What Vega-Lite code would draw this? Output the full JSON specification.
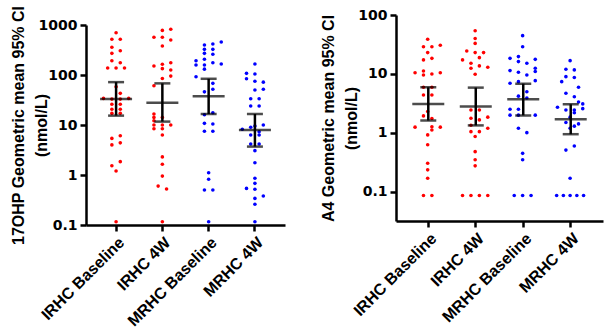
{
"$schema": "https://vega.github.io/schema/vega-lite/v6.json",
"padding": {"left": 9, "top": 5, "right": 2, "bottom": 0},
"config": {
  "font": "Liberation Sans",
  "view": {"stroke": null},
  "axis": {"domainColor": "black", "domainWidth": 2.5, "tickColor": "black", "tickWidth": 2.5, "tickSize": 6, "grid": false,
           "labelFont": "Liberation Sans", "labelFontWeight": "bold", "labelFontSize": 16, "labelColor": "black", "labelPadding": 3,
           "titleFont": "Liberation Sans", "titleFontWeight": "bold", "titleFontSize": 16, "titleColor": "black"},
  "axisY": {"labelFont": "DejaVu Sans", "labelFontSize": 14, "titleX": -60, "titleLineHeight": 23}
},
"datasets": {
"pts": [
{"measure":"17OHP","group":"IRHC Baseline","value":701,"slot":0},
{"measure":"17OHP","group":"IRHC Baseline","value":518,"slot":-1},
{"measure":"17OHP","group":"IRHC Baseline","value":518,"slot":1},
{"measure":"17OHP","group":"IRHC Baseline","value":358,"slot":-1},
{"measure":"17OHP","group":"IRHC Baseline","value":306,"slot":1},
{"measure":"17OHP","group":"IRHC Baseline","value":271,"slot":-1},
{"measure":"17OHP","group":"IRHC Baseline","value":193,"slot":-1},
{"measure":"17OHP","group":"IRHC Baseline","value":176,"slot":1},
{"measure":"17OHP","group":"IRHC Baseline","value":138,"slot":-2},
{"measure":"17OHP","group":"IRHC Baseline","value":138,"slot":0},
{"measure":"17OHP","group":"IRHC Baseline","value":138,"slot":2},
{"measure":"17OHP","group":"IRHC Baseline","value":58,"slot":0},
{"measure":"17OHP","group":"IRHC Baseline","value":43,"slot":1},
{"measure":"17OHP","group":"IRHC Baseline","value":34,"slot":-3},
{"measure":"17OHP","group":"IRHC Baseline","value":33,"slot":-1},
{"measure":"17OHP","group":"IRHC Baseline","value":33,"slot":1},
{"measure":"17OHP","group":"IRHC Baseline","value":34,"slot":3},
{"measure":"17OHP","group":"IRHC Baseline","value":26,"slot":-1},
{"measure":"17OHP","group":"IRHC Baseline","value":26,"slot":1},
{"measure":"17OHP","group":"IRHC Baseline","value":20.6,"slot":-1},
{"measure":"17OHP","group":"IRHC Baseline","value":20.6,"slot":1},
{"measure":"17OHP","group":"IRHC Baseline","value":17.1,"slot":-1},
{"measure":"17OHP","group":"IRHC Baseline","value":17.1,"slot":1},
{"measure":"17OHP","group":"IRHC Baseline","value":5.4,"slot":-1},
{"measure":"17OHP","group":"IRHC Baseline","value":6.1,"slot":1},
{"measure":"17OHP","group":"IRHC Baseline","value":4.0,"slot":-1},
{"measure":"17OHP","group":"IRHC Baseline","value":4.4,"slot":1},
{"measure":"17OHP","group":"IRHC Baseline","value":1.53,"slot":-1},
{"measure":"17OHP","group":"IRHC Baseline","value":1.85,"slot":1},
{"measure":"17OHP","group":"IRHC Baseline","value":1.2,"slot":0},
{"measure":"17OHP","group":"IRHC Baseline","value":0.116,"slot":0},
{"measure":"17OHP","group":"IRHC 4W","value":780,"slot":0},
{"measure":"17OHP","group":"IRHC 4W","value":820,"slot":2},
{"measure":"17OHP","group":"IRHC 4W","value":568,"slot":-2},
{"measure":"17OHP","group":"IRHC 4W","value":568,"slot":0},
{"measure":"17OHP","group":"IRHC 4W","value":500,"slot":2},
{"measure":"17OHP","group":"IRHC 4W","value":380,"slot":0},
{"measure":"17OHP","group":"IRHC 4W","value":151,"slot":-2},
{"measure":"17OHP","group":"IRHC 4W","value":164,"slot":0},
{"measure":"17OHP","group":"IRHC 4W","value":176,"slot":2},
{"measure":"17OHP","group":"IRHC 4W","value":134,"slot":0},
{"measure":"17OHP","group":"IRHC 4W","value":126,"slot":2},
{"measure":"17OHP","group":"IRHC 4W","value":95,"slot":2},
{"measure":"17OHP","group":"IRHC 4W","value":85,"slot":0},
{"measure":"17OHP","group":"IRHC 4W","value":61,"slot":-2},
{"measure":"17OHP","group":"IRHC 4W","value":16.6,"slot":-2},
{"measure":"17OHP","group":"IRHC 4W","value":14.2,"slot":-2},
{"measure":"17OHP","group":"IRHC 4W","value":14.2,"slot":0},
{"measure":"17OHP","group":"IRHC 4W","value":12.2,"slot":-2},
{"measure":"17OHP","group":"IRHC 4W","value":10,"slot":-2},
{"measure":"17OHP","group":"IRHC 4W","value":10,"slot":0},
{"measure":"17OHP","group":"IRHC 4W","value":10,"slot":2},
{"measure":"17OHP","group":"IRHC 4W","value":8.4,"slot":-2},
{"measure":"17OHP","group":"IRHC 4W","value":8.4,"slot":0},
{"measure":"17OHP","group":"IRHC 4W","value":6.3,"slot":0},
{"measure":"17OHP","group":"IRHC 4W","value":2.3,"slot":0},
{"measure":"17OHP","group":"IRHC 4W","value":1.64,"slot":0},
{"measure":"17OHP","group":"IRHC 4W","value":0.95,"slot":0},
{"measure":"17OHP","group":"IRHC 4W","value":0.6,"slot":-1},
{"measure":"17OHP","group":"IRHC 4W","value":0.525,"slot":1},
{"measure":"17OHP","group":"IRHC 4W","value":0.116,"slot":0},
{"measure":"17OHP","group":"MRHC Baseline","value":457,"slot":3},
{"measure":"17OHP","group":"MRHC Baseline","value":417,"slot":1},
{"measure":"17OHP","group":"MRHC Baseline","value":398,"slot":-1},
{"measure":"17OHP","group":"MRHC Baseline","value":326,"slot":-1},
{"measure":"17OHP","group":"MRHC Baseline","value":326,"slot":1},
{"measure":"17OHP","group":"MRHC Baseline","value":271,"slot":-1},
{"measure":"17OHP","group":"MRHC Baseline","value":260,"slot":1},
{"measure":"17OHP","group":"MRHC Baseline","value":193,"slot":-3},
{"measure":"17OHP","group":"MRHC Baseline","value":206,"slot":-1},
{"measure":"17OHP","group":"MRHC Baseline","value":176,"slot":1},
{"measure":"17OHP","group":"MRHC Baseline","value":166,"slot":3},
{"measure":"17OHP","group":"MRHC Baseline","value":158,"slot":-3},
{"measure":"17OHP","group":"MRHC Baseline","value":158,"slot":-1},
{"measure":"17OHP","group":"MRHC Baseline","value":131,"slot":-1},
{"measure":"17OHP","group":"MRHC Baseline","value":92.5,"slot":-3},
{"measure":"17OHP","group":"MRHC Baseline","value":68,"slot":1},
{"measure":"17OHP","group":"MRHC Baseline","value":52,"slot":1},
{"measure":"17OHP","group":"MRHC Baseline","value":46,"slot":-1},
{"measure":"17OHP","group":"MRHC Baseline","value":17.6,"slot":1},
{"measure":"17OHP","group":"MRHC Baseline","value":16,"slot":-1},
{"measure":"17OHP","group":"MRHC Baseline","value":10.8,"slot":-1},
{"measure":"17OHP","group":"MRHC Baseline","value":10.5,"slot":1},
{"measure":"17OHP","group":"MRHC Baseline","value":7.5,"slot":-1},
{"measure":"17OHP","group":"MRHC Baseline","value":7.5,"slot":1},
{"measure":"17OHP","group":"MRHC Baseline","value":1.11,"slot":0},
{"measure":"17OHP","group":"MRHC Baseline","value":0.82,"slot":0},
{"measure":"17OHP","group":"MRHC Baseline","value":0.5,"slot":-1},
{"measure":"17OHP","group":"MRHC Baseline","value":0.5,"slot":1},
{"measure":"17OHP","group":"MRHC Baseline","value":0.116,"slot":0},
{"measure":"17OHP","group":"MRHC 4W","value":166,"slot":0},
{"measure":"17OHP","group":"MRHC 4W","value":108,"slot":-2},
{"measure":"17OHP","group":"MRHC 4W","value":105,"slot":0},
{"measure":"17OHP","group":"MRHC 4W","value":84,"slot":-2},
{"measure":"17OHP","group":"MRHC 4W","value":75,"slot":0},
{"measure":"17OHP","group":"MRHC 4W","value":72,"slot":2},
{"measure":"17OHP","group":"MRHC 4W","value":50,"slot":0},
{"measure":"17OHP","group":"MRHC 4W","value":52,"slot":2},
{"measure":"17OHP","group":"MRHC 4W","value":33.6,"slot":-1},
{"measure":"17OHP","group":"MRHC 4W","value":33.6,"slot":1},
{"measure":"17OHP","group":"MRHC 4W","value":24,"slot":-1},
{"measure":"17OHP","group":"MRHC 4W","value":24,"slot":1},
{"measure":"17OHP","group":"MRHC 4W","value":10,"slot":2},
{"measure":"17OHP","group":"MRHC 4W","value":9.5,"slot":0},
{"measure":"17OHP","group":"MRHC 4W","value":9.0,"slot":-1},
{"measure":"17OHP","group":"MRHC 4W","value":8.2,"slot":-3},
{"measure":"17OHP","group":"MRHC 4W","value":7.35,"slot":1},
{"measure":"17OHP","group":"MRHC 4W","value":6.3,"slot":-1},
{"measure":"17OHP","group":"MRHC 4W","value":6.3,"slot":1},
{"measure":"17OHP","group":"MRHC 4W","value":4.17,"slot":-1},
{"measure":"17OHP","group":"MRHC 4W","value":4.17,"slot":1},
{"measure":"17OHP","group":"MRHC 4W","value":3.07,"slot":0},
{"measure":"17OHP","group":"MRHC 4W","value":1.76,"slot":0},
{"measure":"17OHP","group":"MRHC 4W","value":0.86,"slot":0},
{"measure":"17OHP","group":"MRHC 4W","value":0.68,"slot":0},
{"measure":"17OHP","group":"MRHC 4W","value":0.54,"slot":-2},
{"measure":"17OHP","group":"MRHC 4W","value":0.52,"slot":0},
{"measure":"17OHP","group":"MRHC 4W","value":0.38,"slot":2},
{"measure":"17OHP","group":"MRHC 4W","value":0.34,"slot":0},
{"measure":"17OHP","group":"MRHC 4W","value":0.26,"slot":0},
{"measure":"17OHP","group":"MRHC 4W","value":0.116,"slot":0},
{"measure":"A4","group":"IRHC Baseline","value":38.7,"slot":0},
{"measure":"A4","group":"IRHC Baseline","value":29,"slot":-1},
{"measure":"A4","group":"IRHC Baseline","value":29,"slot":1},
{"measure":"A4","group":"IRHC Baseline","value":30.6,"slot":3},
{"measure":"A4","group":"IRHC Baseline","value":23,"slot":0},
{"measure":"A4","group":"IRHC Baseline","value":17.3,"slot":-1},
{"measure":"A4","group":"IRHC Baseline","value":18.4,"slot":1},
{"measure":"A4","group":"IRHC Baseline","value":10.5,"slot":-3},
{"measure":"A4","group":"IRHC Baseline","value":11.2,"slot":-1},
{"measure":"A4","group":"IRHC Baseline","value":9.6,"slot":-1},
{"measure":"A4","group":"IRHC Baseline","value":10,"slot":1},
{"measure":"A4","group":"IRHC Baseline","value":10.5,"slot":3},
{"measure":"A4","group":"IRHC Baseline","value":5.95,"slot":-1},
{"measure":"A4","group":"IRHC Baseline","value":5.95,"slot":1},
{"measure":"A4","group":"IRHC Baseline","value":4.4,"slot":-1},
{"measure":"A4","group":"IRHC Baseline","value":4.4,"slot":1},
{"measure":"A4","group":"IRHC Baseline","value":2.3,"slot":0},
{"measure":"A4","group":"IRHC Baseline","value":1.94,"slot":-1},
{"measure":"A4","group":"IRHC Baseline","value":1.75,"slot":1},
{"measure":"A4","group":"IRHC Baseline","value":1.25,"slot":-3},
{"measure":"A4","group":"IRHC Baseline","value":1.27,"slot":1},
{"measure":"A4","group":"IRHC Baseline","value":1.25,"slot":3},
{"measure":"A4","group":"IRHC Baseline","value":1.12,"slot":1},
{"measure":"A4","group":"IRHC Baseline","value":0.925,"slot":0},
{"measure":"A4","group":"IRHC Baseline","value":0.63,"slot":0},
{"measure":"A4","group":"IRHC Baseline","value":0.306,"slot":0},
{"measure":"A4","group":"IRHC Baseline","value":0.236,"slot":0},
{"measure":"A4","group":"IRHC Baseline","value":0.17,"slot":0},
{"measure":"A4","group":"IRHC Baseline","value":0.0867,"slot":-1},
{"measure":"A4","group":"IRHC Baseline","value":0.0867,"slot":1},
{"measure":"A4","group":"IRHC 4W","value":54,"slot":0},
{"measure":"A4","group":"IRHC 4W","value":40,"slot":0},
{"measure":"A4","group":"IRHC 4W","value":33,"slot":0},
{"measure":"A4","group":"IRHC 4W","value":24.5,"slot":-2},
{"measure":"A4","group":"IRHC 4W","value":23,"slot":0},
{"measure":"A4","group":"IRHC 4W","value":23,"slot":2},
{"measure":"A4","group":"IRHC 4W","value":17.3,"slot":-3},
{"measure":"A4","group":"IRHC 4W","value":18.9,"slot":1},
{"measure":"A4","group":"IRHC 4W","value":15.2,"slot":-1},
{"measure":"A4","group":"IRHC 4W","value":13.7,"slot":1},
{"measure":"A4","group":"IRHC 4W","value":12.5,"slot":-1},
{"measure":"A4","group":"IRHC 4W","value":13,"slot":3},
{"measure":"A4","group":"IRHC 4W","value":9.9,"slot":0},
{"measure":"A4","group":"IRHC 4W","value":2.45,"slot":-1},
{"measure":"A4","group":"IRHC 4W","value":2.45,"slot":1},
{"measure":"A4","group":"IRHC 4W","value":1.77,"slot":-1},
{"measure":"A4","group":"IRHC 4W","value":1.66,"slot":1},
{"measure":"A4","group":"IRHC 4W","value":1.85,"slot":3},
{"measure":"A4","group":"IRHC 4W","value":1.35,"slot":-1},
{"measure":"A4","group":"IRHC 4W","value":1.05,"slot":-1},
{"measure":"A4","group":"IRHC 4W","value":1.05,"slot":1},
{"measure":"A4","group":"IRHC 4W","value":1.2,"slot":3},
{"measure":"A4","group":"IRHC 4W","value":0.866,"slot":0},
{"measure":"A4","group":"IRHC 4W","value":0.48,"slot":0},
{"measure":"A4","group":"IRHC 4W","value":0.35,"slot":0},
{"measure":"A4","group":"IRHC 4W","value":0.276,"slot":0},
{"measure":"A4","group":"IRHC 4W","value":0.0867,"slot":-3},
{"measure":"A4","group":"IRHC 4W","value":0.0867,"slot":-1},
{"measure":"A4","group":"IRHC 4W","value":0.0867,"slot":1},
{"measure":"A4","group":"IRHC 4W","value":0.0867,"slot":3},
{"measure":"A4","group":"MRHC Baseline","value":44.6,"slot":0},
{"measure":"A4","group":"MRHC Baseline","value":29,"slot":0},
{"measure":"A4","group":"MRHC Baseline","value":18.4,"slot":-3},
{"measure":"A4","group":"MRHC Baseline","value":19.7,"slot":-1},
{"measure":"A4","group":"MRHC Baseline","value":17.7,"slot":3},
{"measure":"A4","group":"MRHC Baseline","value":16.2,"slot":-1},
{"measure":"A4","group":"MRHC Baseline","value":15.2,"slot":1},
{"measure":"A4","group":"MRHC Baseline","value":11.4,"slot":-3},
{"measure":"A4","group":"MRHC Baseline","value":10.7,"slot":-1},
{"measure":"A4","group":"MRHC Baseline","value":9.6,"slot":1},
{"measure":"A4","group":"MRHC Baseline","value":12.5,"slot":3},
{"measure":"A4","group":"MRHC Baseline","value":11,"slot":3},
{"measure":"A4","group":"MRHC Baseline","value":7.7,"slot":3},
{"measure":"A4","group":"MRHC Baseline","value":6.95,"slot":-3},
{"measure":"A4","group":"MRHC Baseline","value":7.4,"slot":-1},
{"measure":"A4","group":"MRHC Baseline","value":5.0,"slot":1},
{"measure":"A4","group":"MRHC Baseline","value":4.2,"slot":-1},
{"measure":"A4","group":"MRHC Baseline","value":3.9,"slot":1},
{"measure":"A4","group":"MRHC Baseline","value":2.52,"slot":-3},
{"measure":"A4","group":"MRHC Baseline","value":2.52,"slot":-1},
{"measure":"A4","group":"MRHC Baseline","value":2.0,"slot":-3},
{"measure":"A4","group":"MRHC Baseline","value":2.0,"slot":-1},
{"measure":"A4","group":"MRHC Baseline","value":2.0,"slot":3},
{"measure":"A4","group":"MRHC Baseline","value":1.2,"slot":-1},
{"measure":"A4","group":"MRHC Baseline","value":1.01,"slot":1},
{"measure":"A4","group":"MRHC Baseline","value":0.45,"slot":0},
{"measure":"A4","group":"MRHC Baseline","value":0.35,"slot":0},
{"measure":"A4","group":"MRHC Baseline","value":0.0867,"slot":-2},
{"measure":"A4","group":"MRHC Baseline","value":0.0867,"slot":0},
{"measure":"A4","group":"MRHC Baseline","value":0.0867,"slot":2},
{"measure":"A4","group":"MRHC 4W","value":16.8,"slot":0},
{"measure":"A4","group":"MRHC 4W","value":12,"slot":-1},
{"measure":"A4","group":"MRHC 4W","value":11.7,"slot":1},
{"measure":"A4","group":"MRHC 4W","value":9.0,"slot":-1},
{"measure":"A4","group":"MRHC 4W","value":8.7,"slot":1},
{"measure":"A4","group":"MRHC 4W","value":7.4,"slot":-2},
{"measure":"A4","group":"MRHC 4W","value":5.95,"slot":2},
{"measure":"A4","group":"MRHC 4W","value":4.7,"slot":-1},
{"measure":"A4","group":"MRHC 4W","value":4.1,"slot":1},
{"measure":"A4","group":"MRHC 4W","value":3.35,"slot":2},
{"measure":"A4","group":"MRHC 4W","value":3.1,"slot":3},
{"measure":"A4","group":"MRHC 4W","value":2.72,"slot":-3},
{"measure":"A4","group":"MRHC 4W","value":2.58,"slot":3},
{"measure":"A4","group":"MRHC 4W","value":2.45,"slot":-1},
{"measure":"A4","group":"MRHC 4W","value":2.45,"slot":1},
{"measure":"A4","group":"MRHC 4W","value":2.2,"slot":1},
{"measure":"A4","group":"MRHC 4W","value":1.85,"slot":0},
{"measure":"A4","group":"MRHC 4W","value":1.5,"slot":-1},
{"measure":"A4","group":"MRHC 4W","value":1.42,"slot":2},
{"measure":"A4","group":"MRHC 4W","value":1.3,"slot":1},
{"measure":"A4","group":"MRHC 4W","value":1.2,"slot":0},
{"measure":"A4","group":"MRHC 4W","value":0.6,"slot":1},
{"measure":"A4","group":"MRHC 4W","value":0.51,"slot":-1},
{"measure":"A4","group":"MRHC 4W","value":0.17,"slot":0},
{"measure":"A4","group":"MRHC 4W","value":0.0867,"slot":-3.2},
{"measure":"A4","group":"MRHC 4W","value":0.0867,"slot":-1.6},
{"measure":"A4","group":"MRHC 4W","value":0.0867,"slot":0},
{"measure":"A4","group":"MRHC 4W","value":0.0867,"slot":1.6},
{"measure":"A4","group":"MRHC 4W","value":0.0867,"slot":3.2}
],
"stats": [
{"measure":"17OHP","group":"IRHC Baseline","mean":33,"lo":15.4,"hi":72},
{"measure":"17OHP","group":"IRHC 4W","mean":27.9,"lo":11.7,"hi":68},
{"measure":"17OHP","group":"MRHC Baseline","mean":37.5,"lo":16.6,"hi":84},
{"measure":"17OHP","group":"MRHC 4W","mean":7.9,"lo":3.7,"hi":16.6},
{"measure":"A4","group":"IRHC Baseline","mean":3.08,"lo":1.62,"hi":5.95},
{"measure":"A4","group":"IRHC 4W","mean":2.79,"lo":1.34,"hi":5.86},
{"measure":"A4","group":"MRHC Baseline","mean":3.72,"lo":1.98,"hi":6.85},
{"measure":"A4","group":"MRHC 4W","mean":1.7,"lo":0.95,"hi":3.06}
]
},
"spacing": 34,
"hconcat": [
{
 "vconcat": [
  {"width": 199, "height": 10, "data": {"values": []}, "mark": "point"},
  {
   "width": 199, "height": 200,
   "layer": [
    {"data": {"name": "pts"}, "transform": [{"filter": "datum.measure == '17OHP'"}],
     "mark": {"type": "circle", "size": 13, "opacity": 1},
     "encoding": {
      "x": {"field": "group", "type": "nominal", "sort": ["IRHC Baseline","IRHC 4W","MRHC Baseline","MRHC 4W"], "scale": {"type": "band", "paddingInner": 0, "paddingOuter": 0.15}, "axis": {"labelAngle": -45, "title": null}},
      "xOffset": {"field": "slot", "type": "quantitative", "scale": {"domain": [-5.5, 5.5]}},
      "y": {"field": "value", "type": "quantitative", "scale": {"type": "log", "domain": [0.1, 1000], "nice": false}, "axis": {"values": [0.1, 1, 10, 100, 1000], "format": "~g"}, "title": ["17OHP Geometric mean 95% CI", "(nmol/L)"]},
      "color": {"field": "group", "type": "nominal", "scale": {"domain": ["IRHC Baseline","IRHC 4W","MRHC Baseline","MRHC 4W"], "range": ["#ff0000","#ff0000","#0000ff","#0000ff"]}, "legend": null}
     }},
    {"data": {"name": "stats"}, "transform": [{"filter": "datum.measure == '17OHP'"}],
     "mark": {"type": "rule", "color": "black", "strokeWidth": 2.5},
     "encoding": {"x": {"field": "group", "type": "nominal", "sort": ["IRHC Baseline","IRHC 4W","MRHC Baseline","MRHC 4W"], "title": null},
      "y": {"field": "lo", "type": "quantitative", "title": ["17OHP Geometric mean 95% CI", "(nmol/L)"]}, "y2": {"field": "hi"}}},
    {"data": {"name": "stats"}, "transform": [{"filter": "datum.measure == '17OHP'"}],
     "mark": {"type": "tick", "color": "black", "size": 16, "thickness": 2.5},
     "encoding": {"x": {"field": "group", "type": "nominal", "sort": ["IRHC Baseline","IRHC 4W","MRHC Baseline","MRHC 4W"], "title": null},
      "y": {"field": "lo", "type": "quantitative", "title": ["17OHP Geometric mean 95% CI", "(nmol/L)"]}}},
    {"data": {"name": "stats"}, "transform": [{"filter": "datum.measure == '17OHP'"}],
     "mark": {"type": "tick", "color": "black", "size": 16, "thickness": 2.5},
     "encoding": {"x": {"field": "group", "type": "nominal", "sort": ["IRHC Baseline","IRHC 4W","MRHC Baseline","MRHC 4W"], "title": null},
      "y": {"field": "hi", "type": "quantitative", "title": ["17OHP Geometric mean 95% CI", "(nmol/L)"]}}},
    {"data": {"name": "stats"}, "transform": [{"filter": "datum.measure == '17OHP'"}],
     "mark": {"type": "tick", "color": "black", "size": 32, "thickness": 2.5},
     "encoding": {"x": {"field": "group", "type": "nominal", "sort": ["IRHC Baseline","IRHC 4W","MRHC Baseline","MRHC 4W"], "title": null},
      "y": {"field": "mean", "type": "quantitative", "title": ["17OHP Geometric mean 95% CI", "(nmol/L)"]}}}
   ]
  }
 ],
 "spacing": 0,
 "bounds": "flush"
},
{
 "width": 207, "height": 206,
 "layer": [
  {"data": {"name": "pts"}, "transform": [{"filter": "datum.measure == 'A4'"}],
   "mark": {"type": "circle", "size": 13, "opacity": 1},
   "encoding": {
    "x": {"field": "group", "type": "nominal", "sort": ["IRHC Baseline","IRHC 4W","MRHC Baseline","MRHC 4W"], "scale": {"type": "band", "paddingInner": 0, "paddingOuter": 0.18}, "axis": {"labelAngle": -45, "title": null}},
    "xOffset": {"field": "slot", "type": "quantitative", "scale": {"domain": [-5.5, 5.5]}},
    "y": {"field": "value", "type": "quantitative", "scale": {"type": "log", "domain": [0.032, 100], "nice": false}, "axis": {"values": [0.1, 1, 10, 100], "format": "~g"}, "title": ["A4 Geometric mean 95% CI", "(nmol/L)"]},
    "color": {"field": "group", "type": "nominal", "scale": {"domain": ["IRHC Baseline","IRHC 4W","MRHC Baseline","MRHC 4W"], "range": ["#ff0000","#ff0000","#0000ff","#0000ff"]}, "legend": null}
   }},
  {"data": {"name": "stats"}, "transform": [{"filter": "datum.measure == 'A4'"}],
   "mark": {"type": "rule", "color": "black", "strokeWidth": 2.5},
   "encoding": {"x": {"field": "group", "type": "nominal", "sort": ["IRHC Baseline","IRHC 4W","MRHC Baseline","MRHC 4W"], "title": null},
    "y": {"field": "lo", "type": "quantitative", "title": ["A4 Geometric mean 95% CI", "(nmol/L)"]}, "y2": {"field": "hi"}}},
  {"data": {"name": "stats"}, "transform": [{"filter": "datum.measure == 'A4'"}],
   "mark": {"type": "tick", "color": "black", "size": 16, "thickness": 2.5},
   "encoding": {"x": {"field": "group", "type": "nominal", "sort": ["IRHC Baseline","IRHC 4W","MRHC Baseline","MRHC 4W"], "title": null},
    "y": {"field": "lo", "type": "quantitative", "title": ["A4 Geometric mean 95% CI", "(nmol/L)"]}}},
  {"data": {"name": "stats"}, "transform": [{"filter": "datum.measure == 'A4'"}],
   "mark": {"type": "tick", "color": "black", "size": 16, "thickness": 2.5},
   "encoding": {"x": {"field": "group", "type": "nominal", "sort": ["IRHC Baseline","IRHC 4W","MRHC Baseline","MRHC 4W"], "title": null},
    "y": {"field": "hi", "type": "quantitative", "title": ["A4 Geometric mean 95% CI", "(nmol/L)"]}}},
  {"data": {"name": "stats"}, "transform": [{"filter": "datum.measure == 'A4'"}],
   "mark": {"type": "tick", "color": "black", "size": 32, "thickness": 2.5},
   "encoding": {"x": {"field": "group", "type": "nominal", "sort": ["IRHC Baseline","IRHC 4W","MRHC Baseline","MRHC 4W"], "title": null},
    "y": {"field": "mean", "type": "quantitative", "title": ["A4 Geometric mean 95% CI", "(nmol/L)"]}}}
 ]
}
]
}
